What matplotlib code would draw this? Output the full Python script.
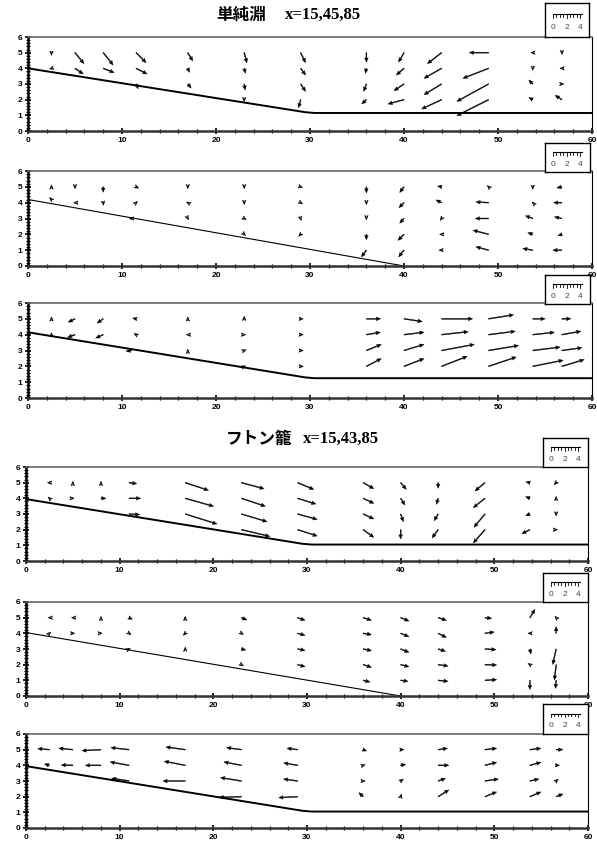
import matplotlib
matplotlib.use("Agg")
import matplotlib.pyplot as plt
from matplotlib.ticker import MultipleLocator

W, H = 597, 843
plt.rcParams['font.family'] = ['Liberation Sans', 'DejaVu Sans']

# bed profiles (x, height)
slope_x = [0, 29.5, 30.5, 60]
drop_x = [0, 40]
bed_tan1 = [4.0, 1.2, 1.15, 1.15]
bed_tan2 = [4.2, 0.0]
bed_tan3 = [4.15, 1.3, 1.25, 1.25]
bed_fut1 = [3.95, 1.1, 1.05, 1.05]
bed_fut2 = [4.05, 0.0]
bed_fut3 = [3.95, 1.1, 1.05, 1.05]

# velocity vectors: x, y, u, v
vec_tan1 = [
    (2.5, 5, 0.0, -0.4), (2.5, 4, -0.3, -0.1),
    (5, 5, 1.33, -1.63), (5, 4, 1.23, -0.84),
    (8, 5, 1.48, -1.83), (8, 4, 1.63, -0.64),
    (11.5, 5, 1.48, -1.48), (11.5, 4, 1.63, -0.84), (11.5, 3, 0.3, -0.7),
    (17, 5, 0.74, -1.23), (17, 4, 0.25, -0.6), (17, 3, 0.5, -0.6),
    (23, 5, 0.4, -1.5), (23, 4, 0.2, -0.74), (23, 3, 0.15, -0.9), (23, 2, 0.0, -0.3),
    (29, 5, 0.74, -1.48), (29, 4, 0.74, -1.0), (29, 3, 0.74, -1.1), (29, 2, -0.3, -1.2),
    (36, 5, 0.0, -1.4), (36, 4, -0.15, -0.74), (36, 3, -0.4, -1.1), (36, 2, -0.7, -0.64),
    (40, 5, -0.8, -1.4), (40, 4, -1.14, -1.0), (40, 3, -1.48, -1.0), (40, 2, -2.37, -0.64),
    (44, 5, -2.1, -1.63), (44, 4, -2.6, -1.48), (44, 3, -2.6, -1.58), (44, 2, -2.96, -1.38),
    (49, 5, -2.86, 0.0), (49, 4, -3.8, -1.48), (49, 3, -4.7, -2.57), (49, 2, -4.7, -2.37),
    (53.7, 5, -0.3, 0.0), (53.7, 4, 0.0, -0.3), (53.7, 3, -0.6, 0.6), (53.7, 2, -0.6, 0.3),
    (56.8, 5, 0.0, -0.3), (56.8, 4, -0.3, 0.0), (56.8, 3, 0.3, 0.0), (56.8, 2, -1.0, 0.64),
]

vec_tan2 = [
    (2.5, 5, 0.0, 0.3), (2.5, 4.2, -0.3, 0.3),
    (5, 5, 0.0, -0.3), (5, 4, -0.2, 0.0),
    (8, 5, 0.0, -0.8), (8, 4, 0.05, -0.4),
    (11.5, 5, 0.4, -0.2), (11.5, 4, 0.2, 0.2), (11, 3, -0.3, 0.0),
    (17, 5, 0.0, -0.3), (17, 4, -0.2, 0.1), (17, 3, 0.1, -0.2),
    (23, 5, 0.0, -0.3), (23, 4, 0.0, -0.3), (23, 3, 0.3, -0.2), (23, 2, 0.2, -0.2),
    (29, 5, 0.3, -0.1), (29, 4, 0.3, -0.2), (29, 3, 0.1, -0.3), (29, 2, -0.3, -0.3),
    (36, 5, 0.0, -0.9), (36, 4, 0.0, -0.3), (36, 3, 0.0, -0.2), (36, 2, 0.0, -0.8), (36, 1, -0.74, -1.0),
    (40, 5, -0.64, -0.84), (40, 4, -0.74, -0.74), (40, 3, -0.64, -0.7), (40, 2, -0.9, -0.9), (40, 1, -0.8, -1.0),
    (44, 5, -0.6, 0.1), (44, 4, -0.84, 0.4), (44, 3, -0.2, -0.3), (44, 2, -0.3, 0.0), (44, 1, -0.4, 0.0),
    (49, 5, -0.2, 0.2), (49, 4, -1.88, 0.1), (49, 3, -1.97, 0.0), (49, 2, -2.3, 0.6), (49, 1, -1.88, 0.5),
    (53.7, 5, 0.0, -0.4), (53.7, 4, -0.1, 0.1), (53.7, 3, -1.1, 0.4), (53.7, 2, -0.74, 0.25), (53.7, 1, -1.48, 0.25),
    (56.8, 5, -0.74, -0.15), (56.8, 4, -1.23, 0.0), (56.8, 3, -1.1, 0.25), (56.8, 2, -0.6, -0.2), (56.8, 1, -1.33, 0.0),
]

vec_tan3 = [
    (2.5, 5, 0.0, 0.3), (2.5, 4, 0.0, 0.3),
    (5, 5, -1.0, -0.5), (5, 4, -1.1, -0.4),
    (8, 5, -0.9, -0.64), (8, 4, -1.1, -0.5),
    (11.5, 5, -0.5, 0.1), (11.5, 4, -0.3, 0.2), (11, 3, -0.8, -0.1),
    (17, 5, 0.0, 0.3), (17, 4, -0.2, 0.0), (17, 3, 0.0, 0.2),
    (23, 5, 0.0, 0.4), (23, 4, 0.2, 0.0), (23, 3, 0.3, 0.1), (23, 2, 0.2, 0.1),
    (29, 5, 0.4, 0.0), (29, 4, 0.4, 0.0), (29, 3, 0.4, 0.0), (29, 2, 0.4, 0.0),
    (36, 5, 2.1, 0.0), (36, 4, 2.07, 0.35), (36, 3, 2.2, 0.9), (36, 2, 2.2, 1.14),
    (40, 5, 2.7, -0.4), (40, 4, 2.96, 0.35), (40, 3, 2.96, 0.9), (40, 2, 2.96, 1.14),
    (44, 5, 4.6, 0.0), (44, 4, 3.95, 0.44), (44, 3, 4.84, 0.9), (44, 2, 3.8, 1.48),
    (49, 5, 3.7, 0.6), (49, 4, 3.95, 0.5), (49, 3, 4.44, 0.74), (49, 2, 4.1, 1.38),
    (53.7, 5, 1.83, 0.0), (53.7, 4, 3.2, 0.35), (53.7, 3, 4.05, 0.5), (53.7, 2, 4.5, 0.9),
    (56.8, 5, 1.33, 0.0), (56.8, 4, 2.8, 0.5), (56.8, 3, 2.96, 0.4), (56.8, 2, 3.3, 1.0),
]

vec_fut1 = [
    (2.5, 5, -0.3, 0.0), (2.5, 4, -0.2, 0.2),
    (5, 5, 0.0, 0.2), (5, 4, 0.2, 0.0),
    (8, 5, 0.0, 0.2), (8, 4, 0.74, 0.0),
    (11, 5, 1.14, -0.15), (11, 4, 1.73, 0.0), (11, 3, 1.58, -0.1),
    (17, 5, 3.45, -1.14), (17, 4, 4.2, -1.18), (17, 3, 4.7, -1.48),
    (23, 5, 3.36, -0.9), (23, 4, 3.55, -1.18), (23, 3, 3.8, -1.14), (23, 2, 4.2, -1.0),
    (29, 5, 2.4, -1.0), (29, 4, 2.7, -0.84), (29, 3, 2.9, -0.8), (29, 2, 2.9, -0.94),
    (36, 5, 1.58, -0.9), (36, 4, 1.58, -0.74), (36, 3, 1.58, -0.74), (36, 2, 1.58, -1.14),
    (40, 5, 0.84, -1.0), (40, 4, 0.64, -1.0), (40, 3, 0.4, -1.14), (40, 2, 0.0, -1.38),
    (44, 5, 0.0, -0.84), (44, 4, -0.25, -0.9), (44, 3, -0.6, -1.0), (44, 2, -0.9, -1.23),
    (49, 5, -1.48, -1.23), (49, 4, -1.73, -1.38), (49, 3, -1.63, -1.97), (49, 2, -1.73, -1.97),
    (53.8, 5, -0.6, 0.1), (53.8, 4, -0.64, 0.25), (53.8, 3, -0.64, -0.25), (53.8, 2, -1.2, -0.6),
    (56.6, 5, -0.3, -0.3), (56.6, 4, 0.0, 0.3), (56.6, 3, 0.0, -0.3), (56.6, 2, 0.2, 0.0),
]

vec_fut2 = [
    (2.5, 5, -0.2, 0.0), (2.5, 4, 0.2, 0.2),
    (5, 5, -0.2, 0.0), (5, 4, 0.3, 0.0),
    (8, 5, 0.0, 0.2), (8, 4, 0.2, 0.0),
    (11, 5, 0.5, -0.25), (11, 4, 0.3, -0.2), (11, 3, 0.2, 0.1),
    (17, 5, 0.0, 0.2), (17, 4, -0.3, -0.3), (17, 3, 0.0, 0.3),
    (23, 5, 0.8, -0.35), (23, 4, 0.3, -0.2), (23, 3, 0.64, -0.15), (23, 2, 0.3, -0.2),
    (29, 5, 1.1, -0.4), (29, 4, 1.1, -0.3), (29, 3, 1.1, -0.2), (29, 2, 1.1, -0.3),
    (36, 5, 1.23, -0.4), (36, 4, 1.23, -0.2), (36, 3, 1.23, -0.25), (36, 2, 1.23, -0.4), (36, 1, 1.0, -0.25),
    (40, 5, 1.23, -0.5), (40, 4, 1.23, -0.5), (40, 3, 1.23, -0.5), (40, 2, 1.23, -0.3), (40, 1, 1.1, -0.15),
    (44, 5, 1.23, -0.4), (44, 4, 1.23, -0.6), (44, 3, 1.1, -0.35), (44, 2, 1.48, -0.2), (44, 1, 1.48, -0.15),
    (49, 5, 1.0, -0.1), (49, 4, 1.38, 0.2), (49, 3, 1.63, -0.1), (49, 2, 1.73, -0.05), (49, 1, 1.73, 0.1),
    (53.8, 5, 0.74, 1.23), (53.8, 4, -0.3, 0.0), (53.8, 3, 0.15, -0.74), (53.8, 2, -0.3, 0.2), (53.8, 1, 0.0, -1.38),
    (56.6, 5, -0.2, 0.2), (56.6, 4, 0.0, 1.0), (56.6, 3, -0.5, -2.3), (56.6, 2, -0.25, -2.27), (56.6, 1, -0.1, -1.2),
]

vec_fut3 = [
    (2.5, 5, -1.73, 0.15), (2.5, 4, -0.74, 0.2),
    (5, 5, -2.07, 0.2), (5, 4, -1.73, 0.05),
    (8, 5, -2.8, -0.15), (8, 4, -2.3, 0.0),
    (11, 5, -2.7, 0.3), (11, 4, -2.8, 0.5), (11, 3, -2.57, 0.4),
    (17, 5, -2.86, 0.4), (17, 4, -3.1, 0.6), (17, 3, -3.3, 0.0),
    (23, 5, -2.2, 0.3), (23, 4, -2.6, 0.5), (23, 3, -3.1, 0.5), (23, 2, -3.3, -0.1),
    (29, 5, -1.58, 0.2), (29, 4, -2.07, 0.35), (29, 3, -2.1, 0.3), (29, 2, -2.8, -0.15),
    (36, 5, 0.5, -0.2), (36, 4, 0.3, 0.1), (36, 3, 0.3, 0.0), (36, 2, -0.64, 0.6),
    (40, 5, 0.5, 0.0), (40, 4, 0.74, 0.15), (40, 3, 0.4, 0.3), (40, 2, 0.1, 0.4),
    (44, 5, 1.38, 0.2), (44, 4, 1.58, 0.0), (44, 3, 1.1, 0.4), (44, 2, 1.58, 1.0),
    (49, 5, 1.73, 0.2), (49, 4, 1.73, 0.44), (49, 3, 2.0, 0.3), (49, 2, 1.73, 0.7),
    (53.8, 5, 1.63, 0.2), (53.8, 4, 1.63, 0.44), (53.8, 3, 1.33, 0.3), (53.8, 2, 1.63, 0.7),
    (56.6, 5, 1.0, 0.0), (56.6, 4, 0.5, 0.0), (56.6, 3, 0.3, 0.3), (56.6, 2, 1.0, 0.4),
]

scale_ticks = [0, 2, 4]
PX_PER_UNIT = 6.75  # arrow length in pixels for 1 velocity unit

fig = plt.figure(figsize=(W / 100, H / 100), dpi=100)


def px_rect(x0, x1, ytop, ybot):
    return [x0 / W, 1 - ybot / H, (x1 - x0) / W, (ybot - ytop) / H]


def draw_panel(rect, bed_x, bed_y, bed_lw, vecs):
    ax = fig.add_axes(rect)
    ax.set_xlim(0, 60)
    ax.set_ylim(0, 6)
    ax.plot(bed_x, bed_y, color='black', lw=bed_lw, solid_capstyle='butt', zorder=2)
    x, y, u, v = zip(*vecs)
    ax.quiver(x, y, u, v, angles='uv', scale_units='dots', scale=1 / PX_PER_UNIT,
              units='dots', width=0.9, headwidth=4, headlength=4.8, headaxislength=4.3,
              minshaft=0, minlength=0.5, linewidth=0.3, edgecolor='black',
              pivot='tail', color='black', zorder=3)
    ax.xaxis.set_major_locator(MultipleLocator(10))
    ax.xaxis.set_minor_locator(MultipleLocator(2))
    ax.yaxis.set_major_locator(MultipleLocator(1))
    ax.yaxis.set_minor_locator(MultipleLocator(0.2))
    ax.tick_params(which='major', direction='inout', length=5, width=1.2, pad=1.5,
                   labelsize=6)
    ax.tick_params(which='minor', direction='inout', length=3, width=0.9)
    for lab in ax.get_xticklabels() + ax.get_yticklabels():
        lab.set_fontweight('bold')
    ax.spines['left'].set_linewidth(1.8)
    ax.spines['bottom'].set_linewidth(1.8)
    ax.spines['bottom'].set_color('#333333')
    ax.spines['top'].set_linewidth(1.2)
    ax.spines['top'].set_color('#666666')
    ax.spines['right'].set_linewidth(0.8)
    return ax


def draw_scale(x0, x1, ytop, ybot):
    ax = fig.add_axes(px_rect(x0, x1, ytop, ybot))
    left = -(8 / PX_PER_UNIT)
    ax.set_xlim(left, left + (x1 - x0) / PX_PER_UNIT)
    ax.set_ylim(0, 1)
    ax.set_xticks([])
    ax.set_yticks([])
    for s in ax.spines.values():
        s.set_linewidth(1.0)
    ry = 0.68
    ax.plot([0, 4.25], [ry, ry], color='black', lw=0.8)
    for i in range(9):
        t = i * 0.5
        ln = 0.12 if t in scale_ticks else 0.08
        ax.plot([t, t], [ry, ry - ln], color='black', lw=0.6)
    for t in scale_ticks:
        ax.text(t, 0.27, str(t), ha='center', va='center', fontsize=6, color='#444444')


panels = [
    ((28, 592, 37, 131), slope_x, bed_tan1, 1.4, vec_tan1, (545, 589, 3, 37)),
    ((28, 592, 171, 266), drop_x, bed_tan2, 0.8, vec_tan2, (545, 590, 143, 172)),
    ((28, 592, 303, 398), slope_x, bed_tan3, 1.4, vec_tan3, (545, 590, 275, 304)),
    ((26, 588, 467, 561), slope_x, bed_fut1, 1.4, vec_fut1, (543, 588, 438, 467)),
    ((26, 588, 602, 696), drop_x, bed_fut2, 0.8, vec_fut2, (543, 588, 573, 602)),
    ((26, 588, 734, 828), slope_x, bed_fut3, 1.4, vec_fut3, (543, 588, 704, 734)),
]

for (r, bx, by, lw, vecs, box) in panels:
    draw_panel(px_rect(*r), bx, by, lw, vecs)
    draw_scale(*box)

# titles
fig.text(266 / W, 1 - 15 / H, '単純淵', ha='right', va='center', fontsize=12,
         fontweight='bold', family=['Noto Sans CJK JP', 'DejaVu Sans'])
fig.text(285 / W, 1 - 15 / H, 'x=15,45,85', ha='left', va='center', fontsize=12,
         fontweight='bold', family=['Liberation Serif', 'DejaVu Serif'])
fig.text(292 / W, 1 - 439 / H, 'フトン籠', ha='right', va='center', fontsize=12,
         fontweight='bold', family=['Noto Sans CJK JP', 'DejaVu Sans'])
fig.text(303 / W, 1 - 439 / H, 'x=15,43,85', ha='left', va='center', fontsize=12,
         fontweight='bold', family=['Liberation Serif', 'DejaVu Serif'])

fig.savefig('out.png', dpi=100)
